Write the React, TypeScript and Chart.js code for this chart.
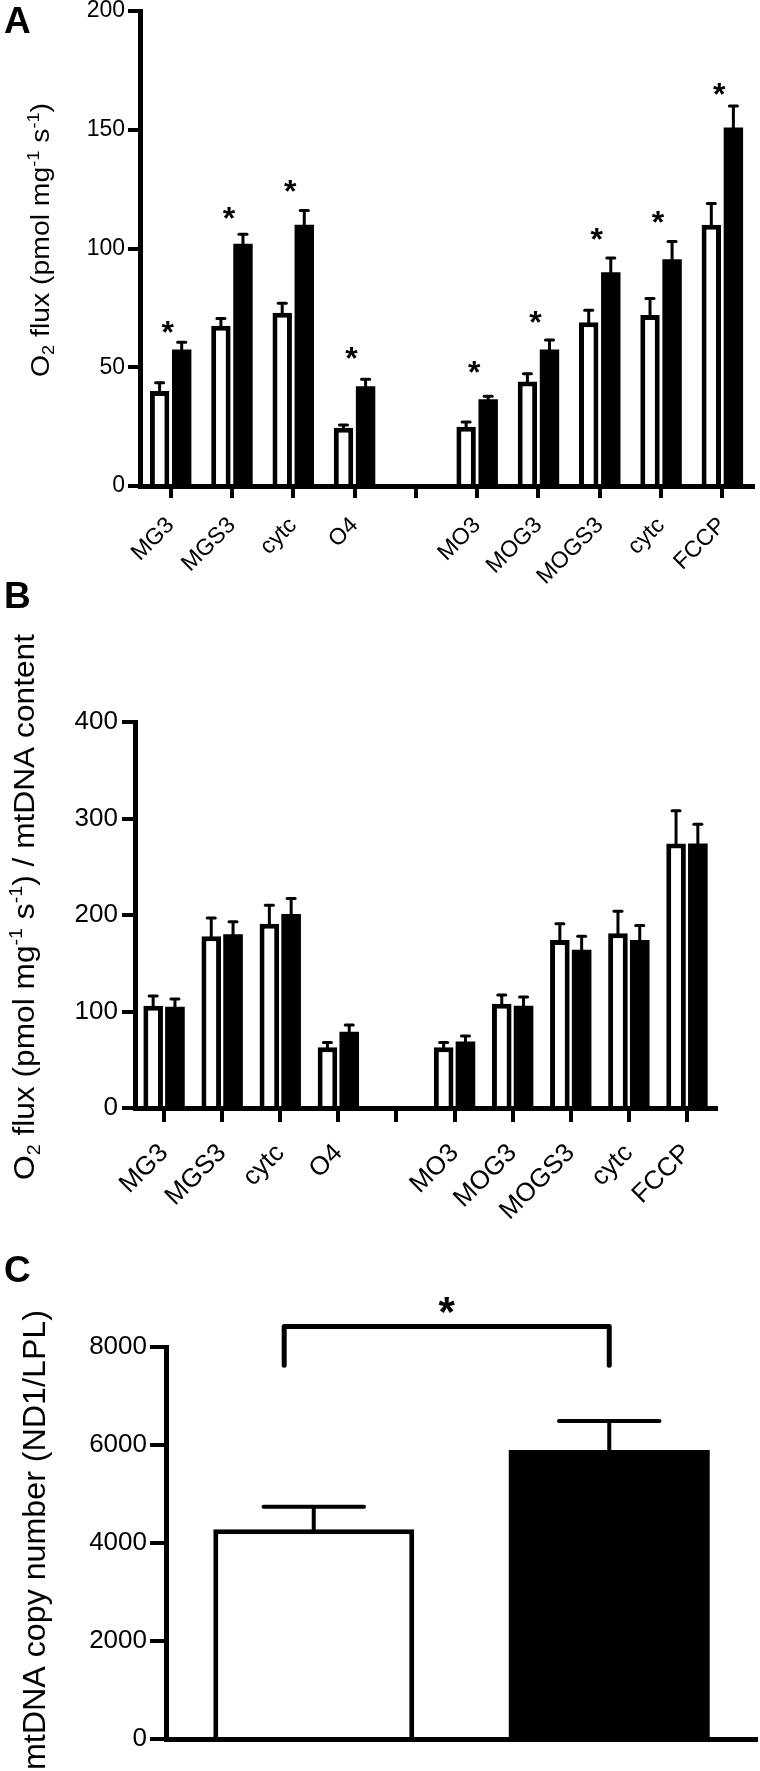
import React, { useEffect, useRef } from 'react';
import { Chart, registerables } from 'chart.js';

Chart.register(...registerables);

const FONT = '"Liberation Sans", Arial, Helvetica, sans-serif';

// ---------- Panel A data ----------
const categoriesA = ['MG3', 'MGS3', 'cytc', 'O4', '', 'MO3', 'MOG3', 'MOGS3', 'cytc', 'FCCP'];
const controlA = [40, 67.5, 73, 24.5, null, 25, 44, 69, 72, 110];
const controlErrA = [3.5, 3, 4, 1.2, null, 2, 3.3, 5, 7, 9];
const treatedA = [57.5, 102, 110, 42, null, 36.5, 57.5, 90, 95.5, 151];
const treatedErrA = [3, 4, 6, 3, null, 1.3, 4, 6, 7.5, 9];
const starLevelsA = [68, 116, 127, 57, null, 51, 72, 107, 114, 168];
const yTicksA = [0, 50, 100, 150, 200];

// ---------- Panel B data ----------
const categoriesB = ['MG3', 'MGS3', 'cytc', 'O4', '', 'MO3', 'MOG3', 'MOGS3', 'cytc', 'FCCP'];
const controlB = [106, 178, 191, 63, null, 63, 108, 174, 181, 274];
const controlErrB = [10, 19, 19, 5, null, 5, 9, 17, 23, 34];
const treatedB = [105, 180, 201, 79, null, 69, 106, 164, 174, 274];
const treatedErrB = [8, 13, 16, 7, null, 5.5, 9, 14, 15, 20];
const yTicksB = [0, 100, 200, 300, 400];

// ---------- Panel C data ----------
const categoriesC = ['', ''];
const valuesC = [4280, 5900];
const errorsC = [460, 590];
const bracketLevelsC = [7630, 8420];
const starLevelC = 8915;
const yTicksC = [0, 2000, 4000, 6000, 8000];

type Seg = { t: string; sup?: boolean; sub?: boolean };

const titleA: Seg[] = [
  { t: 'O' }, { t: '2', sub: true }, { t: ' flux (pmol mg' }, { t: '-1', sup: true },
  { t: ' s' }, { t: '-1', sup: true }, { t: ')' },
];
const titleB: Seg[] = [
  { t: 'O' }, { t: '2', sub: true }, { t: ' flux (pmol mg' }, { t: '-1', sup: true },
  { t: ' s' }, { t: '-1', sup: true }, { t: ') / mtDNA content' },
];
const titleC: Seg[] = [{ t: 'mtDNA copy number (ND1/LPL)' }];

function drawVerticalTitle(ctx: CanvasRenderingContext2D, segs: Seg[], baselineX: number, centerY: number, size: number, length: number) {
  ctx.save();
  const fontFor = (s: Seg) => `${s.sup || s.sub ? Math.round(size * 0.62) : size}px ${FONT}`;
  let total = 0;
  const widths = segs.map((s) => {
    ctx.font = fontFor(s);
    const w = ctx.measureText(s.t).width;
    total += w;
    return w;
  });
  ctx.translate(baselineX, centerY);
  ctx.rotate(-Math.PI / 2);
  ctx.scale(length / total, 1);
  ctx.fillStyle = '#000';
  ctx.textBaseline = 'alphabetic';
  ctx.textAlign = 'left';
  let x = -total / 2;
  segs.forEach((s, i) => {
    ctx.font = fontFor(s);
    const dy = s.sup ? -size * 0.4 : s.sub ? size * 0.2 : 0;
    ctx.fillText(s.t, x, dy);
    x += widths[i];
  });
  ctx.restore();
}

function drawLetter(ctx: CanvasRenderingContext2D, letter: string, x: number, baseline: number) {
  ctx.save();
  ctx.fillStyle = '#000';
  ctx.font = `bold 37px ${FONT}`;
  ctx.textAlign = 'left';
  ctx.textBaseline = 'alphabetic';
  ctx.fillText(letter, x, baseline);
  ctx.restore();
}

function drawStar(ctx: CanvasRenderingContext2D, cx: number, cy: number, size: number) {
  ctx.save();
  ctx.fillStyle = '#000';
  ctx.font = `bold ${size}px ${FONT}`;
  ctx.textAlign = 'center';
  ctx.textBaseline = 'alphabetic';
  ctx.fillText('*', cx, cy + size * 0.565);
  ctx.restore();
}

function drawErrorBars(chart: any, errs: (number | null)[][], lineWidth: number, capHalf: number | null) {
  const ctx: CanvasRenderingContext2D = chart.ctx;
  const yScale = chart.scales.y;
  ctx.save();
  ctx.strokeStyle = '#000';
  errs.forEach((errArr, di) => {
    const meta = chart.getDatasetMeta(di);
    const values = chart.data.datasets[di].data;
    errArr.forEach((e, j) => {
      const v = values[j];
      if (v == null || e == null) return;
      const el = meta.data[j];
      const x = el.x;
      const yTop = el.y;
      const yErr = yScale.getPixelForValue(v + e);
      const half = capHalf != null ? capHalf : el.width * 0.25;
      ctx.lineWidth = lineWidth;
      ctx.lineCap = 'butt';
      ctx.beginPath();
      ctx.moveTo(x, yTop + 1);
      ctx.lineTo(x, yErr);
      ctx.stroke();
      ctx.lineCap = 'round';
      ctx.beginPath();
      ctx.moveTo(x - half, yErr);
      ctx.lineTo(x + half, yErr);
      ctx.stroke();
    });
  });
  ctx.restore();
}

type GroupedParams = {
  top: number;
  height: number;
  area: { left: number; right: number; top: number; bottom: number };
  cats: string[];
  control: (number | null)[];
  controlErr: (number | null)[];
  treated: (number | null)[];
  treatedErr: (number | null)[];
  yTicks: number[];
  tickFont: number;
  yTickLen: number;
  yTickPad: number;
  xTickLen: number;
  xLabelPad: number;
  catPct: number;
  barPct: number;
  title: Seg[];
  titleGeom: [number, number, number, number];
  letter: string;
  letterPos: [number, number];
  stars: (number | null)[] | null;
};

function groupedConfig(p: GroupedParams): any {
  const decor = {
    id: 'decor' + p.letter,
    afterDraw(chart: any) {
      const ctx: CanvasRenderingContext2D = chart.ctx;
      drawErrorBars(chart, [p.controlErr, p.treatedErr], 3, 4);
      if (p.stars) {
        const xs = chart.scales.x;
        const ys = chart.scales.y;
        p.stars.forEach((s, j) => {
          if (s == null) return;
          drawStar(ctx, xs.getPixelForValue(j) - 3, ys.getPixelForValue(s), 32);
        });
      }
      const [bx, cy, fs, len] = p.titleGeom;
      drawVerticalTitle(ctx, p.title, bx, cy - p.top, fs, len);
      drawLetter(ctx, p.letter, p.letterPos[0], p.letterPos[1] - p.top);
    },
  };
  return {
    type: 'bar',
    data: {
      labels: p.cats,
      datasets: [
        {
          data: p.control,
          backgroundColor: '#ffffff',
          borderColor: '#000000',
          borderWidth: 5,
          borderSkipped: 'start',
          categoryPercentage: p.catPct,
          barPercentage: p.barPct,
        },
        {
          data: p.treated,
          backgroundColor: '#000000',
          borderColor: '#000000',
          borderWidth: 0,
          categoryPercentage: p.catPct,
          barPercentage: p.barPct,
        },
      ],
    },
    options: {
      responsive: false,
      animation: false,
      devicePixelRatio: 1,
      layout: { padding: { left: 0, top: p.area.top - p.top, right: 760 - p.area.right, bottom: 0 } },
      plugins: { legend: { display: false }, tooltip: { enabled: false } },
      scales: {
        x: {
          offset: true,
          grid: { offset: false, drawOnChartArea: false, drawTicks: true, tickLength: p.xTickLen, lineWidth: 4, color: '#000' },
          border: { display: true, width: 5, color: '#000', z: 1 },
          ticks: {
            autoSkip: false,
            minRotation: 45,
            maxRotation: 45,
            color: '#000',
            font: { family: FONT, size: p.tickFont },
            padding: p.xLabelPad,
          },
          afterFit: (s: any) => {
            s.height = p.top + p.height - p.area.bottom;
            s.paddingLeft = 0;
            s.paddingRight = 0;
          },
        },
        y: {
          min: p.yTicks[0],
          max: p.yTicks[p.yTicks.length - 1],
          ticks: {
            stepSize: p.yTicks[1] - p.yTicks[0],
            color: '#000',
            font: { family: FONT, size: p.tickFont },
            padding: p.yTickPad,
            callback: (v: any) => String(v),
          },
          grid: { drawOnChartArea: false, drawTicks: true, tickLength: p.yTickLen, lineWidth: 4, color: '#000' },
          border: { display: true, width: 5, color: '#000', z: 1 },
          afterFit: (s: any) => {
            s.width = p.area.left;
            s.paddingTop = 0;
            s.paddingBottom = 0;
          },
        },
      },
    },
    plugins: [decor],
  };
}

const TOP_A = 0, H_A = 600;
const TOP_B = 570, H_B = 670;
const TOP_C = 1230, H_C = 541;

function configA() {
  return groupedConfig({
    top: TOP_A,
    height: H_A,
    area: { left: 140, right: 753, top: 11, bottom: 486 },
    cats: categoriesA,
    control: controlA,
    controlErr: controlErrA,
    treated: treatedA,
    treatedErr: treatedErrA,
    yTicks: yTicksA,
    tickFont: 23,
    yTickLen: 12,
    yTickPad: 3,
    xTickLen: 12,
    xLabelPad: 14,
    catPct: 0.72,
    barPct: 0.88,
    title: titleA,
    titleGeom: [49, 240, 25, 274],
    letter: 'A',
    letterPos: [4, 33],
    stars: starLevelsA,
  });
}

function configB() {
  return groupedConfig({
    top: TOP_B,
    height: H_B,
    area: { left: 135, right: 716, top: 722, bottom: 1108 },
    cats: categoriesB,
    control: controlB,
    controlErr: controlErrB,
    treated: treatedB,
    treatedErr: treatedErrB,
    yTicks: yTicksB,
    tickFont: 26,
    yTickLen: 13,
    yTickPad: 4,
    xTickLen: 14,
    xLabelPad: 16,
    catPct: 0.75,
    barPct: 0.9,
    title: titleB,
    titleGeom: [34, 907, 29, 546],
    letter: 'B',
    letterPos: [4, 608],
    stars: null,
  });
}

function configC(): any {
  const area = { left: 166, right: 757, top: 1347, bottom: 1739 };
  const decor = {
    id: 'decorC',
    afterDraw(chart: any) {
      const ctx: CanvasRenderingContext2D = chart.ctx;
      drawErrorBars(chart, [errorsC], 4, null);
      const xs = chart.scales.x;
      const ys = chart.scales.y;
      const x0 = xs.getPixelForValue(0);
      const x1 = xs.getPixelForValue(1);
      const left = x0 - (x1 - x0) * 0.1;
      const right = x1;
      const yLow = ys.getPixelForValue(bracketLevelsC[0]);
      const yHigh = ys.getPixelForValue(bracketLevelsC[1]);
      ctx.save();
      ctx.strokeStyle = '#000';
      ctx.lineWidth = 5;
      ctx.lineCap = 'round';
      ctx.lineJoin = 'round';
      ctx.beginPath();
      ctx.moveTo(left, yLow);
      ctx.lineTo(left, yHigh);
      ctx.lineTo(right, yHigh);
      ctx.lineTo(right, yLow);
      ctx.stroke();
      ctx.restore();
      drawStar(ctx, (left + right) / 2, ys.getPixelForValue(starLevelC), 42);
      drawVerticalTitle(ctx, titleC, 45, 1540 - TOP_C, 31, 460);
      drawLetter(ctx, 'C', 4, 1282 - TOP_C);
    },
  };
  return {
    type: 'bar',
    data: {
      labels: categoriesC,
      datasets: [
        {
          data: valuesC,
          backgroundColor: ['#ffffff', '#000000'],
          borderColor: '#000000',
          borderWidth: [5, 0],
          borderSkipped: 'start',
          categoryPercentage: 0.68,
          barPercentage: 1,
        },
      ],
    },
    options: {
      responsive: false,
      animation: false,
      devicePixelRatio: 1,
      layout: { padding: { left: 0, top: area.top - TOP_C, right: 760 - area.right, bottom: 0 } },
      plugins: { legend: { display: false }, tooltip: { enabled: false } },
      scales: {
        x: {
          offset: true,
          grid: { display: false, drawTicks: false },
          border: { display: true, width: 5, color: '#000', z: 1 },
          ticks: { display: false },
          afterFit: (s: any) => {
            s.height = TOP_C + H_C - area.bottom;
            s.paddingLeft = 0;
            s.paddingRight = 0;
          },
        },
        y: {
          min: yTicksC[0],
          max: yTicksC[yTicksC.length - 1],
          ticks: {
            stepSize: yTicksC[1] - yTicksC[0],
            color: '#000',
            font: { family: FONT, size: 26 },
            padding: 3,
            callback: (v: any) => String(v),
          },
          grid: { drawOnChartArea: false, drawTicks: true, tickLength: 16, lineWidth: 4, color: '#000' },
          border: { display: true, width: 5, color: '#000', z: 1 },
          afterFit: (s: any) => {
            s.width = area.left;
            s.paddingTop = 0;
            s.paddingBottom = 0;
          },
        },
      },
    },
    plugins: [decor],
  };
}

function Panel({ top, height, make }: { top: number; height: number; make: () => any }) {
  const ref = useRef<HTMLCanvasElement>(null);
  useEffect(() => {
    if (!ref.current) return;
    const chart = new Chart(ref.current, make());
    return () => chart.destroy();
  }, []);
  return (
    <canvas
      ref={ref}
      width={760}
      height={height}
      style={{ position: 'absolute', left: 0, top, width: 760, height, display: 'block' }}
    />
  );
}

export default function App() {
  return (
    <div style={{ position: 'absolute', left: 0, top: 0, width: 760, height: 1771, background: '#fff', overflow: 'hidden' }}>
      <Panel top={TOP_A} height={H_A} make={configA} />
      <Panel top={TOP_B} height={H_B} make={configB} />
      <Panel top={TOP_C} height={H_C} make={configC} />
    </div>
  );
}
